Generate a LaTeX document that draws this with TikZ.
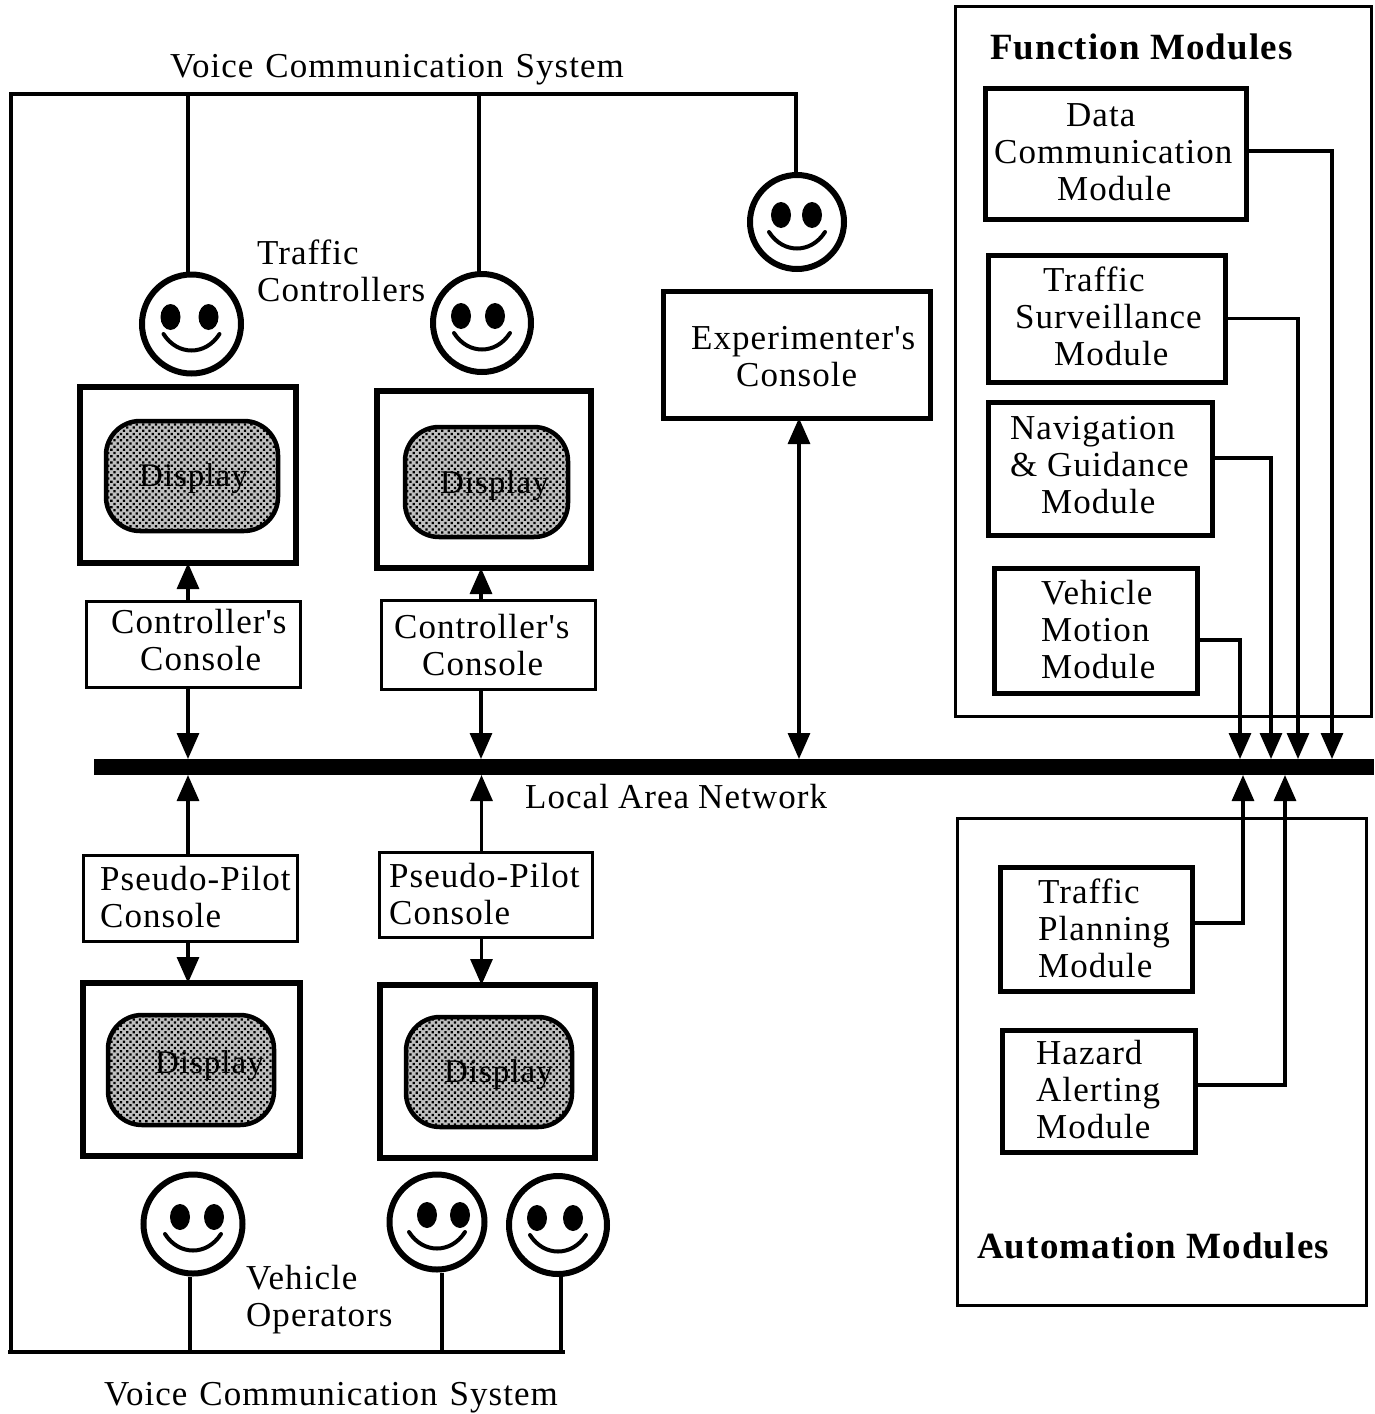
\documentclass[tikz,border=0pt]{standalone}
\usepackage{fontspec}
\setmainfont[LetterSpace=3,Ligatures=TeXOff]{Liberation Serif}
\usetikzlibrary{arrows.meta,calc,patterns.meta}
\tikzset{
  x=1pt,y=-1pt,
  lbl/.style={font=\fontsize{35}{37}\selectfont,inner sep=0pt,align=left,anchor=west},
  displbl/.style={lbl,font=\fontsize{33}{37}\selectfont},
  head/.style={font=\fontsize{37}{37}\selectfont\bfseries,inner sep=0pt,anchor=west},
  rectbox/.style={draw,inner sep=0pt,outer sep=0pt,anchor=north west},
  thinbox/.style={rectbox,line width=3pt},
  thickbox/.style={rectbox,line width=5pt},
  monitor/.style={rectbox,line width=6pt},
  conn/.style={line width=3.2pt},
  tip/.style={conn,-{Triangle[width=22pt,length=26pt]}},
  dtip/.style={conn,{Triangle[width=22pt,length=26pt]}-{Triangle[width=22pt,length=26pt]}},
  facering/.style={draw,circle,line width=6pt,inner sep=0pt}
}
% box with corners given as pixel positions: name, style, x1, y1, x2, y2
\newcommand{\pxbox}[6]{\node[#2,minimum width=#5pt-#3pt,minimum height=#6pt-#4pt] (#1) at (#3,#4) {};}
% face: name, x, y, ring size, left eye offset, right eye offset
\newcommand{\smiley}[6]{%
  \node[facering,minimum size=#4pt] (#1) at (#2,#3) {};
  \begin{scope}[shift={(#2,#3)}]
    \fill (#5,-7) ellipse [x radius=10,y radius=13];
    \fill (#6,-7) ellipse [x radius=10,y radius=13];
    \draw[line width=4pt,line cap=round] (-28,10) .. controls (-14,32) and (14,32) .. (28,10);
  \end{scope}}
% shaded screen of a monitor: corners
\newcommand{\dispscreen}[4]{%
  \path[preaction={fill=black!25},pattern={Dots[distance=4.5pt,radius=1.6pt,angle=45]}] [rounded corners=34pt] (#1,#2) rectangle (#3,#4);
  \draw[line width=4.5pt,rounded corners=34pt] (#1,#2) rectangle (#3,#4);
}
\begin{document}
\begin{tikzpicture}
\useasboundingbox (0,0) rectangle (1374,1414);

% outer module groups
\pxbox{fnGroup}{thinbox}{955}{6}{1371}{716}
\pxbox{autoGroup}{thinbox}{957}{818}{1366}{1305}
\node[head] (fnTitle) at (990,47) {Function Modules};
\node[head] (autoTitle) at (977,1246) {Automation Modules};

% module boxes
\pxbox{dataB}{thickbox}{985}{88}{1246}{219}
\node[lbl] (dataT) at (994,152) {\hspace*{72pt}Data\\Communication\\\hspace*{63pt}Module};
\pxbox{survB}{thickbox}{988}{255}{1225}{382}
\node[lbl] (survT) at (1015,316) {\hspace*{28pt}Traffic\\Surveillance\\\hspace*{39pt}Module};
\pxbox{navB}{thickbox}{988}{402}{1212}{535}
\node[lbl] (navT) at (1010,465) {Navigation\\\& Guidance\\\hspace*{31pt}Module};
\pxbox{vehB}{thickbox}{994}{568}{1197}{693}
\node[lbl] (vehT) at (1041,630) {Vehicle\\Motion\\Module};
\pxbox{planB}{thickbox}{1000}{867}{1192}{991}
\node[lbl] (planT) at (1038,928) {Traffic\\Planning\\Module};
\pxbox{hazB}{thickbox}{1002}{1030}{1195}{1152}
\node[lbl] (hazT) at (1036,1090) {Hazard\\Alerting\\Module};

% experimenter
\pxbox{expB}{thickbox}{663}{291}{930}{418}
\node[lbl] (expT) at (691,357) {Experimenter's\\\hspace*{45pt}Console};

% network bar
\pxbox{lan}{rectbox,fill=black,draw=none}{94}{759}{1374}{775}
\node[lbl] (lanT) at (525,797) {Local\hspace{9pt}Area\hspace{9pt}Network};

% monitors and screens
\pxbox{monA}{monitor}{80}{387}{296}{563}
\dispscreen{106}{421}{278}{531}
\node[displbl] (dispA) at (139,479) {Display};
\pxbox{monB}{monitor}{377}{391}{591}{568}
\dispscreen{405}{427}{568}{537}
\node[displbl] (dispB) at (440,486) {Display};
\pxbox{monC}{monitor}{83}{983}{300}{1156}
\dispscreen{108}{1015}{274}{1125}
\node[displbl] (dispC) at (155,1066) {Display};
\pxbox{monD}{monitor}{380}{985}{595}{1158}
\dispscreen{406}{1017}{572}{1127}
\node[displbl] (dispD) at (444,1075) {Display};

% consoles
\pxbox{ccA}{thinbox}{86}{601}{300}{687}
\node[lbl] (ccAT) at (111,640) {Controller's\\\hspace*{29pt}Console};
\pxbox{ccB}{thinbox}{381}{600}{595}{689}
\node[lbl] (ccBT) at (394,645) {Controller's\\\hspace*{28pt}Console};
\pxbox{ppA}{thinbox}{83}{855}{297}{941}
\node[lbl] (ppAT) at (100,897) {Pseudo-Pilot\\Console};
\pxbox{ppB}{thinbox}{379}{852}{592}{937}
\node[lbl] (ppBT) at (389,894) {Pseudo-Pilot\\Console};

% faces
\smiley{faceA}{191.5}{324}{99}{-21}{17}
\smiley{faceB}{482}{323}{98}{-21}{13}
\smiley{faceE}{797}{222}{94}{-16}{15}
\smiley{faceC}{193}{1224}{99}{-13}{21}
\smiley{faceD}{437}{1222}{95}{-10}{23}
\smiley{faceF}{558}{1225}{98}{-21}{15}

% captions
\node[lbl] (voiceTop) at (170,70) {Voice\hspace{12pt}Communication\hspace{12pt}System};
\node[lbl] (voiceBot) at (104,1398) {Voice\hspace{12pt}Communication\hspace{12pt}System};
\node[lbl] (ctlLbl) at (257,271) {Traffic\\Controllers};
\node[lbl] (opLbl) at (246,1300) {Vehicle\\Operators};

% voice system lines
\coordinate (vTL) at (11,94);
\coordinate (vTR) at (796,94);
\coordinate (vBL) at (8,1352);
\coordinate (vBR) at (565,1352);
\draw[conn] (faceE.north -| vTR) -- (vTR) -- (vTL) -- (vTL |- vBL);
\draw[conn] (vBL) -- (vBR);
\draw[conn] ([xshift=-3.5pt]faceA.north) -- ([xshift=-3.5pt]faceA.north |- vTL);
\draw[conn] ([xshift=-3pt]faceB.north) -- ([xshift=-3pt]faceB.north |- vTL);
\draw[conn] ([xshift=-3pt]faceC.south) -- ([xshift=-3pt]faceC.south |- vBL);
\draw[conn] ([xshift=5pt]faceD.south) -- ([xshift=5pt]faceD.south |- vBL);
\draw[conn] ([xshift=3pt]faceF.south) -- ([xshift=3pt]faceF.south |- vBL);

% console connectors
\draw[tip] ([xshift=-5pt]ccA.north) -- ([xshift=-5pt]ccA.north |- monA.south);
\draw[tip] ([xshift=-5pt]ccA.south) -- ([xshift=-5pt]ccA.south |- lan.north);
\draw[tip] ([xshift=-7pt]ccB.north) -- ([xshift=-7pt]ccB.north |- monB.south);
\draw[tip] ([xshift=-7pt]ccB.south) -- ([xshift=-7pt]ccB.south |- lan.north);
\draw[tip] ([xshift=-2pt]ppA.north) -- ([xshift=-2pt]ppA.north |- lan.south);
\draw[tip] ([xshift=-2pt]ppA.south) -- ([xshift=-2pt]ppA.south |- monC.north);
\draw[tip] ([xshift=-4pt]ppB.north) -- ([xshift=-4pt]ppB.north |- lan.south);
\draw[tip] ([xshift=-4pt]ppB.south) -- ([xshift=-4pt]ppB.south |- monD.north);
\draw[dtip] ([xshift=2.5pt]expB.south) -- ([xshift=2.5pt]expB.south |- lan.north);

% module connectors
\coordinate (busD) at (1332,0);
\coordinate (busS) at (1298,0);
\coordinate (busN) at (1271,0);
\coordinate (busV) at (1240,0);
\coordinate (busP) at (1243,0);
\coordinate (busH) at (1285,0);
\draw[tip] ([yshift=2.5pt]dataB.east) -- ([yshift=2.5pt]dataB.east -| busD) -- (busD |- lan.north);
\draw[tip] (survB.east) -- (survB.east -| busS) -- (busS |- lan.north);
\draw[tip] ([yshift=10.5pt]navB.east) -- ([yshift=10.5pt]navB.east -| busN) -- (busN |- lan.north);
\draw[tip] ([yshift=-9.5pt]vehB.east) -- ([yshift=-9.5pt]vehB.east -| busV) -- (busV |- lan.north);
\draw[tip] ([yshift=6pt]planB.east) -- ([yshift=6pt]planB.east -| busP) -- (busP |- lan.south);
\draw[tip] ([yshift=6pt]hazB.east) -- ([yshift=6pt]hazB.east -| busH) -- (busH |- lan.south);
\end{tikzpicture}
\end{document}
